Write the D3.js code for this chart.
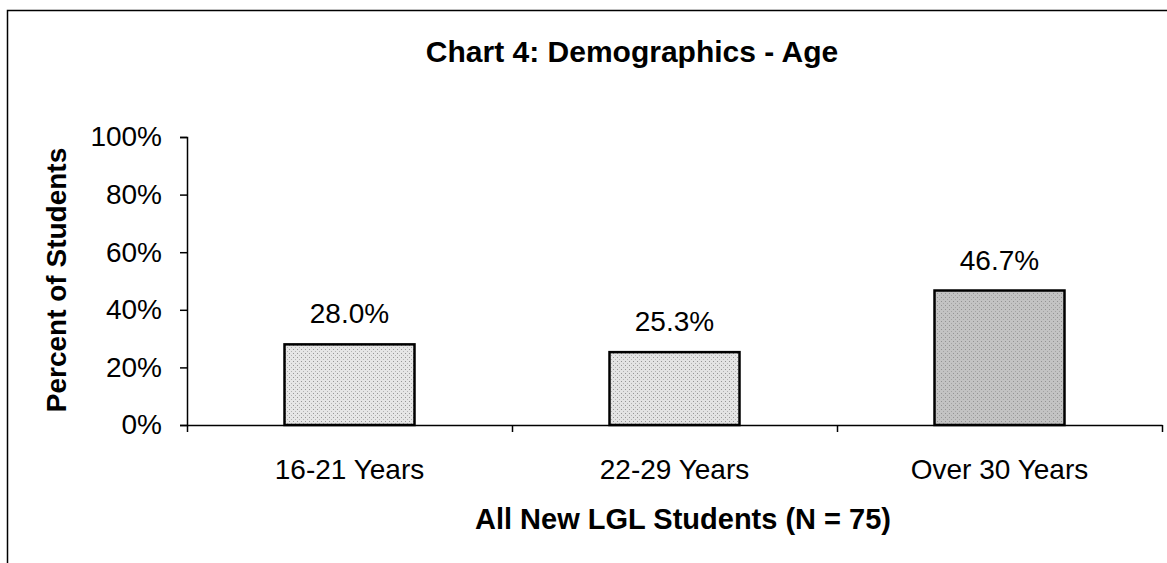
<!DOCTYPE html>
<html>
<head>
<meta charset="utf-8">
<script src="https://cdn.jsdelivr.net/npm/d3@7"></script>
<style>
  body { margin: 0; background: #fff; }
  text { font-family: "Liberation Sans", Arial, sans-serif; fill: #000; }
</style>
</head>
<body>
<div id="chart"></div>
<script>
// chart data
var categories = ['16-21 Years', '22-29 Years', 'Over 30 Years'];
var percents = [28.0, 25.3, 46.7];
var barShades = ['#e6e6e6', '#e3e3e3', '#c3c3c3'];
var yTicks = [0, 20, 40, 60, 80, 100];

var W = 1167, H = 563;
var plot = { left: 187, right: 1162, top: 137, bottom: 425 };

var svg = d3.select('#chart')
    .append('svg')
    .attr('width', W)
    .attr('height', H);

// halftone-ish fills
var defs = svg.append('defs');
barShades.forEach(function(c, i){
    var p = defs.append('pattern')
        .attr('id', 'fill' + i)
        .attr('width', 4).attr('height', 4)
        .attr('patternUnits', 'userSpaceOnUse');
    p.append('rect').attr('width', 4).attr('height', 4).attr('fill', c);
    p.append('rect').attr('x', 1).attr('y', 1).attr('width', 1).attr('height', 1)
        .attr('fill', d3.color(c).darker(i == 2 ? 0.8 : 1.2));
    p.append('rect').attr('x', 3).attr('y', 3).attr('width', 1).attr('height', 1)
        .attr('fill', d3.color(c).darker(i == 2 ? 0.5 : 0.7));
});

// outer frame (right / bottom run off the page)
svg.append('rect')
    .attr('x', 7.5).attr('y', 10.5)
    .attr('width', W + 20).attr('height', H + 20)
    .attr('fill', 'none')
    .attr('stroke', '#000')
    .attr('stroke-width', 1.5);

var x = d3.scaleBand()
    .domain(categories)
    .range([plot.left, plot.right])
    .paddingInner(0.6)
    .paddingOuter(0.3);

var xEdges = d3.scaleLinear()
    .domain([0, categories.length])
    .range([plot.left, plot.right]);

var y = d3.scaleLinear()
    .domain([0, 100])
    .range([plot.bottom, plot.top]);

// y axis
var yAxis = svg.append('g')
    .attr('transform', 'translate(' + plot.left + ',0)')
    .call(d3.axisLeft(y).tickValues(yTicks).tickFormat(d => d + '%').tickSize(7).tickPadding(18));
yAxis.select('.domain').attr('stroke-width', 1.5);
yAxis.selectAll('.tick line').attr('stroke-width', 1.5);
yAxis.selectAll('text')
    .style('font-size', '28px')
    .style('font-family', '"Liberation Sans", Arial, sans-serif')
    .attr('fill', '#000');

// bars
svg.append('g').selectAll('rect')
    .data(percents)
    .join('rect')
    .attr('x', (d, i) => x(categories[i]))
    .attr('y', d => y(d))
    .attr('width', x.bandwidth())
    .attr('height', d => y(0) - y(d))
    .attr('fill', (d, i) => 'url(#fill' + i + ')')
    .attr('stroke', '#000')
    .attr('stroke-width', 2.5);

// x axis: line with ticks at category boundaries
var xAxis = svg.append('g')
    .attr('transform', 'translate(0,' + plot.bottom + ')')
    .call(d3.axisBottom(xEdges).tickValues(d3.range(categories.length + 1)).tickFormat('').tickSize(7).tickSizeOuter(0));
xAxis.select('.domain').attr('stroke-width', 1.5);
xAxis.selectAll('.tick line').attr('stroke-width', 1.5);

// category labels
svg.append('g').selectAll('text')
    .data(categories)
    .join('text')
    .attr('x', d => x(d) + x.bandwidth() / 2)
    .attr('y', 479)
    .attr('text-anchor', 'middle')
    .style('font-size', '28px')
    .text(d => d);

// value labels
svg.append('g').selectAll('text')
    .data(percents)
    .join('text')
    .attr('x', (d, i) => x(categories[i]) + x.bandwidth() / 2)
    .attr('y', d => y(d) - 21)
    .attr('text-anchor', 'middle')
    .style('font-size', '28px')
    .text(d => d.toFixed(1) + '%');

// title
svg.append('text')
    .attr('x', 632)
    .attr('y', 62)
    .attr('text-anchor', 'middle')
    .style('font-size', '30px')
    .style('font-weight', 'bold')
    .text('Chart 4: Demographics - Age');

// axis titles
svg.append('text')
    .attr('x', 683)
    .attr('y', 529)
    .attr('text-anchor', 'middle')
    .style('font-size', '29px')
    .style('font-weight', 'bold')
    .text('All New LGL Students (N = 75)');

svg.append('g')
    .attr('transform', 'translate(66,' + 280 + ') rotate(-90)')
    .append('text')
    .attr('text-anchor', 'middle')
    .style('font-size', '28px')
    .style('font-weight', 'bold')
    .text('Percent of Students');
</script>
</body>
</html>
